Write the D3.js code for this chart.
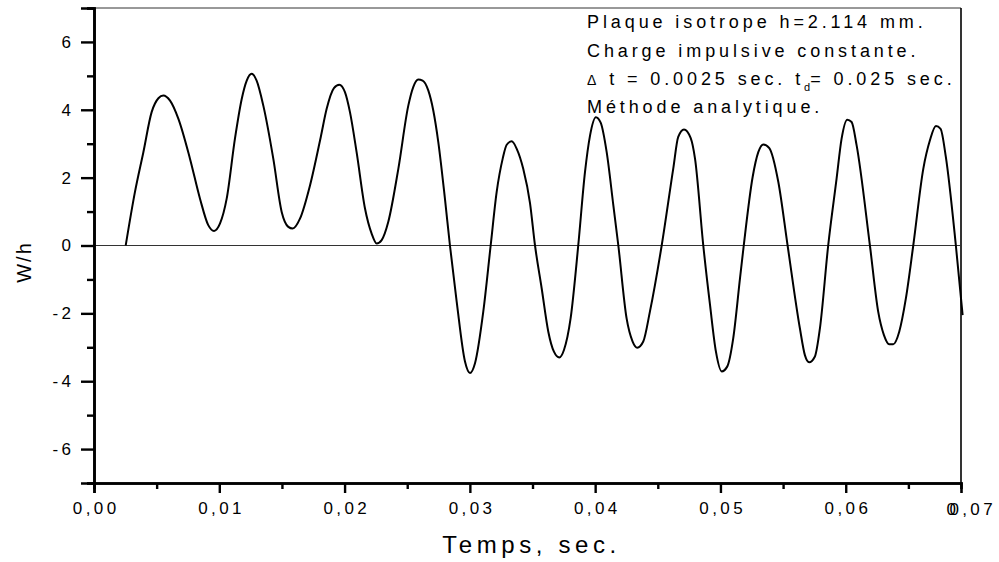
<!DOCTYPE html>
<html>
<head>
<meta charset="utf-8">
<script src="https://cdn.jsdelivr.net/npm/d3@7"></script>
<style>
  body { margin: 0; background: #fff; }
  svg { display: block; font-family: Arial, "Liberation Sans", sans-serif; }
  .ticktext { font-family: Arial, "Liberation Sans", sans-serif; font-size: 17px; letter-spacing: 3.4px; fill: #000; }
</style>
</head>
<body>
<svg width="999" height="562"></svg>
<script>
// time (s) and W/h
const timeValues = [
  0.00253, 0.00327, 0.00394, 0.00460, 0.00514, 0.00553, 0.00607, 0.00673, 0.00766, 0.00846,
  0.00912, 0.00958, 0.01006, 0.01059, 0.01125, 0.01179, 0.01219, 0.01258, 0.01298, 0.01351,
  0.01431, 0.01498, 0.01551, 0.01586, 0.01644, 0.01724, 0.01810, 0.01857, 0.01915, 0.01958,
  0.02003, 0.02043, 0.02096, 0.02163, 0.02216, 0.02256, 0.02296, 0.02349, 0.02429, 0.02509,
  0.02548, 0.02588, 0.02623, 0.02668, 0.02708, 0.02748, 0.02801, 0.02841, 0.02895, 0.02961,
  0.03001, 0.03041, 0.03107, 0.03166, 0.03214, 0.03262, 0.03294, 0.03334, 0.03374, 0.03426,
  0.03480, 0.03520, 0.03573, 0.03626, 0.03671, 0.03714, 0.03751, 0.03804, 0.03865, 0.03919,
  0.03959, 0.04006, 0.04044, 0.04092, 0.04145, 0.04185, 0.04251, 0.04299, 0.04336, 0.04384,
  0.04437, 0.04531, 0.04623, 0.04663, 0.04709, 0.04762, 0.04797, 0.04863, 0.04917, 0.04964,
  0.05010, 0.05054, 0.05102, 0.05156, 0.05186, 0.05257, 0.05302, 0.05342, 0.05390, 0.05462,
  0.05536, 0.05634, 0.05674, 0.05708, 0.05754, 0.05794, 0.05860, 0.05927, 0.05967, 0.06012,
  0.06047, 0.06087, 0.06193, 0.06259, 0.06305, 0.06347, 0.06379, 0.06427, 0.06480, 0.06539,
  0.06619, 0.06672, 0.06720, 0.06757, 0.06799, 0.06879, 0.06933
];
const whValues = [
  0.00, 1.58, 2.75, 3.93, 4.34, 4.42, 4.27, 3.74, 2.56, 1.38,
  0.60, 0.43, 0.65, 1.38, 3.15, 4.32, 4.86, 5.06, 4.86, 4.13,
  2.56, 0.99, 0.55, 0.50, 0.79, 1.77, 3.20, 4.03, 4.64, 4.74,
  4.52, 3.93, 2.75, 1.09, 0.35, 0.06, 0.16, 0.70, 2.26, 4.13,
  4.67, 4.89, 4.86, 4.57, 3.98, 3.05, 1.38, 0.00, -1.66, -3.42,
  -3.76, -3.47, -1.95, 0.00, 1.58, 2.56, 2.97, 3.07, 2.85, 2.26,
  1.25, 0.00, -1.26, -2.54, -3.13, -3.30, -3.08, -2.15, 0.00, 2.17,
  3.24, 3.78, 3.62, 2.75, 1.19, 0.00, -2.15, -2.83, -3.01, -2.83,
  -1.95, 0.00, 2.26, 3.20, 3.42, 3.17, 2.56, 0.00, -1.76, -3.13,
  -3.71, -3.57, -2.74, -0.97, 0.00, 2.02, 2.75, 2.98, 2.87, 1.87,
  0.00, -2.44, -3.23, -3.44, -3.27, -2.44, 0.00, 1.97, 3.15, 3.71,
  3.64, 2.95, 0.00, -1.95, -2.64, -2.91, -2.91, -2.54, -1.56, 0.00,
  2.26, 3.10, 3.52, 3.44, 2.61, 0.00, -2.05
];

const xMajorTicks = [0, 0.01, 0.02, 0.03, 0.04, 0.05, 0.06];
const xMinorTicks = [0.005, 0.015, 0.025, 0.035, 0.045, 0.055, 0.065];
const xExtraLabel = 0.07;
const yMajorTicks = [-6, -4, -2, 0, 2, 4, 6];
const yMinorTicks = [-7, -5, -3, -1, 1, 3, 5, 7];

const xTitle = 'Temps, sec.';
const yTitle = 'W/h';
const noteLines = [
  'Plaque isotrope h=2.114 mm.',
  'Charge impulsive constante.',
  null,                      // line with the subscript, built below
  'Méthode analytique.'
];

const svg = d3.select('svg');
const margin = { top: 8, left: 94, right: 38, bottom: 79 };
const width = +svg.attr('width');
const height = +svg.attr('height');
const innerWidth = width - margin.left - margin.right;
const innerHeight = height - margin.top - margin.bottom;

const g = svg.append('g').attr('transform', `translate(${margin.left},${margin.top})`);

const xScale = d3.scaleLinear().domain([0, 0.0692]).range([0, innerWidth]);
const yScale = d3.scaleLinear().domain([-7, 7]).range([innerHeight, 0]);

const data = timeValues.map((t, i) => ({ t, w: whValues[i] }));
const comma = d => d3.format('.2f')(d).replace('.', ',');

// frame: thin top and right
g.append('line').attr('x1', 0).attr('x2', innerWidth).attr('y1', 0).attr('y2', 0)
  .attr('stroke', '#333').attr('stroke-width', 1);
g.append('line').attr('x1', innerWidth).attr('x2', innerWidth).attr('y1', 0).attr('y2', innerHeight)
  .attr('stroke', '#000').attr('stroke-width', 1.6);

// zero line
g.append('line').attr('x1', 0).attr('x2', innerWidth)
  .attr('y1', yScale(0)).attr('y2', yScale(0))
  .attr('stroke', '#333').attr('stroke-width', 1);

// curve
const line = d3.line()
  .x(d => xScale(d.t))
  .y(d => yScale(d.w))
  .curve(d3.curveMonotoneX);

g.append('path')
  .datum(data)
  .attr('fill', 'none')
  .attr('stroke', '#000')
  .attr('stroke-width', 2)
  .attr('stroke-linejoin', 'round')
  .attr('d', line);

// y axis
const yAxisMinor = g.append('g')
  .call(d3.axisLeft(yScale).tickValues(yMinorTicks).tickSize(7).tickFormat(''));
const yAxis = g.append('g')
  .call(d3.axisLeft(yScale).tickValues(yMajorTicks).tickSize(13).tickPadding(10).tickFormat(d => String(d)));
[yAxisMinor, yAxis].forEach(a => {
  a.attr('font-family', null).attr('font-size', null);
  a.select('.domain').attr('stroke', '#000').attr('stroke-width', 2.6);
  a.selectAll('.tick line').attr('stroke', '#000').attr('stroke-width', 2.4);
});
yAxis.selectAll('.tick text').attr('class', 'ticktext').attr('dx', '3.4px');

// x axis
const xAxisMinor = g.append('g')
  .attr('transform', `translate(0,${innerHeight})`)
  .call(d3.axisBottom(xScale).tickValues(xMinorTicks).tickSize(6).tickFormat(''));
const xAxis = g.append('g')
  .attr('transform', `translate(0,${innerHeight})`)
  .call(d3.axisBottom(xScale).tickValues(xMajorTicks).tickSize(10).tickPadding(10).tickFormat(comma));
[xAxisMinor, xAxis].forEach(a => {
  a.attr('font-family', null).attr('font-size', null);
  a.select('.domain').attr('stroke', '#000').attr('stroke-width', 2.6);
  a.selectAll('.tick line').attr('stroke', '#000').attr('stroke-width', 2.4);
});
xAxis.selectAll('.tick text').attr('class', 'ticktext').attr('dx', '1.7px').attr('y', 19);

// the last label sits past the end of the axis, with a stray zero over it
g.append('text')
  .attr('class', 'ticktext')
  .attr('x', xScale(xExtraLabel) + 1.7)
  .attr('y', innerHeight + 32)
  .attr('text-anchor', 'middle')
  .text(comma(xExtraLabel));
g.append('text')
  .attr('class', 'ticktext')
  .attr('x', xScale(xExtraLabel) - 24.5)
  .attr('y', innerHeight + 32)
  .text('0');

// axis titles
svg.append('text')
  .attr('x', margin.left + innerWidth / 2 + 4)
  .attr('y', 553)
  .attr('text-anchor', 'middle')
  .style('font-size', '24px')
  .style('letter-spacing', '4.6px')
  .text(xTitle);

svg.append('text')
  .attr('transform', 'translate(31,262) rotate(-90)')
  .attr('text-anchor', 'middle')
  .style('font-size', '20px')
  .style('letter-spacing', '2px')
  .text(yTitle);

// note block
const note = svg.append('g').attr('transform', 'translate(587,0)')
  .style('font-size', '18px')
  .style('letter-spacing', '3.9px');
const noteY = [28, 57, 85, 113];
noteLines.forEach((s, i) => {
  if (s === null) return;
  note.append('text').attr('y', noteY[i]).text(s);
});
const l3 = note.append('text').attr('y', noteY[2]);
l3.append('tspan').style('font-size', '14px').text('Δ');
l3.append('tspan').text(' t = 0.0025 sec. t');
l3.append('tspan').attr('dy', 6).style('font-size', '11px').style('letter-spacing', '0px').text('d');
l3.append('tspan').attr('dy', -6).text('= 0.025 sec.');
</script>
</body>
</html>
